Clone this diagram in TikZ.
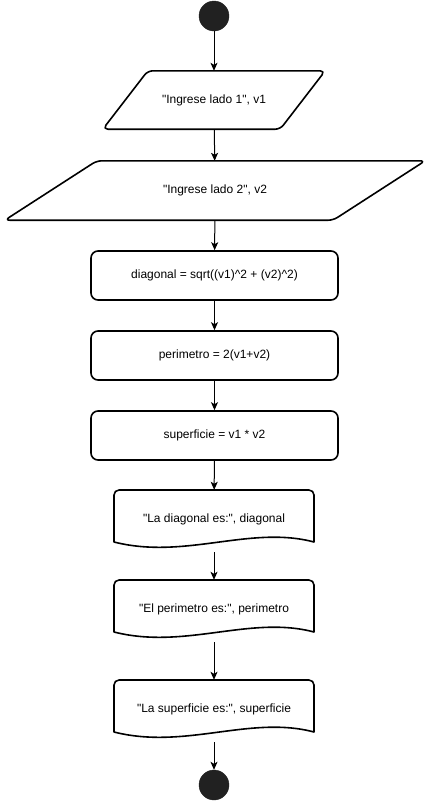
\documentclass[tikz,border=0pt]{standalone}
\usepackage{fontspec}
\setmainfont{Liberation Sans}[Ligatures=TeXOff]
\usetikzlibrary{arrows.meta}
\tikzset{
  boxline/.style={line width=1.6pt, line join=round},
  flow/.style={-{Stealth[length=8pt,width=7pt,inset=2pt]}, line width=1pt},
  terminal/.style={circle, fill=black!87, draw=black!87, minimum size=30pt, inner sep=0pt},
  inbox/.style={draw=none, inner sep=0pt, minimum height=58pt},
  procbox/.style={draw, boxline, rounded corners=7pt, minimum width=247pt, minimum height=49pt, inner sep=0pt},
  docbox/.style={draw=none, inner sep=0pt, minimum width=200pt, minimum height=62pt}
}
\begin{document}
\begin{tikzpicture}[x=1pt,y=-1pt, font=\fontsize{12}{14}\selectfont]
      \useasboundingbox (0,0) rectangle (430,801);
      \node[terminal] (start) at (214,16) {};
      \node[inbox, minimum width=222pt] (in1) at (214,100) {"Ingrese lado 1", v1};
      \node[inbox, minimum width=420pt, minimum height=59pt] (in2) at (215,190.5) {"Ingrese lado 2", v2};
      \node[procbox] (diag) at (214.5,275.5) {diagonal = sqrt((v1)\^{}2 + (v2)\^{}2)};
      \node[procbox] (peri) at (214.5,355.5) {perimetro = 2(v1+v2)};
      \node[procbox] (sup) at (214.5,435.5) {superficie = v1 * v2};
      \node[docbox] (doc1) at (214,521) {\raisebox{6pt}{"La diagonal es:", diagonal}};
      \node[docbox] (doc2) at (214,611) {\raisebox{6pt}{"El perimetro es:", perimetro}};
      \node[docbox] (doc3) at (214,711) {\raisebox{6pt}{"La superficie es:", superficie}};
      \node[terminal] (end) at (214,785) {};
      % input shapes
      \draw[boxline, rounded corners=5pt] ([xshift=45pt]in1.north west) -- (in1.north east)
        -- ([xshift=-45pt]in1.south east) -- (in1.south west) -- cycle;
      \draw[boxline, rounded corners=5pt] ([xshift=92pt]in2.north west) -- (in2.north east)
        -- ([xshift=-92pt]in2.south east) -- (in2.south west) -- cycle;
      % output shapes
      \foreach \d in {doc1,doc2,doc3}
        \draw[boxline, shift={(\d.center)}] (-100,21) [rounded corners=5pt] -- (-100,-31)
          -- (100,-31) [sharp corners] -- (100,21) .. controls (36,4) and (-29,39) .. (-100,21) -- cycle;
      \begin{scope}[flow]
        \draw (start) -- (in1);
        \draw (in1) -- (in2);
        \draw (in2) -- (diag);
        \draw (diag) -- (peri);
        \draw (peri) -- (sup);
        \draw (sup) -- (doc1);
        \draw (doc1) -- (doc2);
        \draw (doc2) -- (doc3);
        \draw (doc3) -- (end);
      \end{scope}
    \end{tikzpicture}
\end{document}
